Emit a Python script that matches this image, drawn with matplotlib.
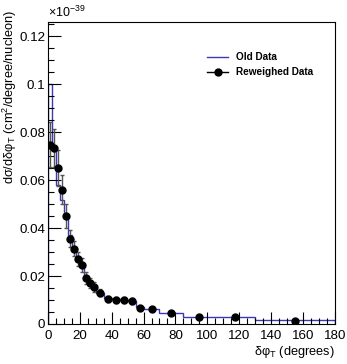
import numpy as np
import matplotlib
matplotlib.use('Agg')
import matplotlib.pyplot as plt
from matplotlib.lines import Line2D
from matplotlib.ticker import MultipleLocator, FuncFormatter

plt.rcParams['font.family'] = 'Liberation Sans'
plt.rcParams['mathtext.fontset'] = 'custom'
plt.rcParams['mathtext.rm'] = 'Liberation Sans'
plt.rcParams['mathtext.it'] = 'Liberation Sans:italic'
plt.rcParams['mathtext.bf'] = 'Liberation Sans:bold'

# bin edges in degrees (variable binning)
bin_edges = [0, 2.5, 5, 7.5, 10, 12.5, 15, 17.5, 20, 22.5, 25, 27.5, 30,
             35, 40, 45, 50, 55, 60, 70, 85, 105, 130, 180]

# Old Data histogram (units of 1e-39 cm2/degree/nucleon)
old_data = [0.100, 0.072, 0.058, 0.0517, 0.045, 0.037, 0.031, 0.027, 0.024,
            0.020, 0.017, 0.0152, 0.013, 0.011, 0.0103, 0.0100, 0.0095,
            0.0070, 0.0063, 0.0045, 0.0030, 0.0030, 0.0015]

# Reweighed Data points
rew_data = [0.0748, 0.0734, 0.065, 0.056, 0.045, 0.0356, 0.0314, 0.0271,
            0.0247, 0.0192, 0.0171, 0.0155, 0.0131, 0.0105, 0.0101, 0.0101,
            0.0097, 0.0066, 0.0063, 0.0045, 0.0029, 0.0029, 0.0014]
rew_err = [0.0095, 0.008, 0.0075, 0.006, 0.005, 0.0035, 0.003, 0.003, 0.003,
           0.0025, 0.002, 0.002, 0.0015, 0.0013, 0.0013, 0.0013, 0.0013,
           0.0008, 0.0006, 0.0005, 0.0003, 0.0003, 0.0002]

edges = np.array(bin_edges)
centers = 0.5 * (edges[:-1] + edges[1:])

fig = plt.figure(figsize=(3.47, 3.64), dpi=100)
ax = fig.add_axes([0.138, 0.110, 0.827, 0.830])

ax.stairs(old_data, edges, color='#3838b8', linewidth=1.0)
ax.errorbar(centers, rew_data, yerr=rew_err, fmt='o', color='black',
            ecolor='#555555', elinewidth=1.0, capsize=1.5, markersize=5)

ax.set_xlim(0, 180)
ax.set_ylim(0, 0.126)
ax.xaxis.set_major_locator(MultipleLocator(20))
ax.xaxis.set_minor_locator(MultipleLocator(5))
ax.yaxis.set_major_locator(MultipleLocator(0.02))
ax.yaxis.set_minor_locator(MultipleLocator(0.005))
ax.yaxis.set_major_formatter(FuncFormatter(lambda v, p: '%g' % round(v, 4)))
ax.tick_params(which='both', direction='in', top=False, right=False,
               labelsize=9.6, colors='black')
ax.tick_params(which='major', length=9, width=0.8)
ax.tick_params(which='minor', length=4.5, width=0.8)
ax.tick_params(axis='x', pad=4)
ax.tick_params(axis='y', pad=2)
for s in ax.spines.values():
    s.set_linewidth(0.8)

ax.set_xlabel(r'δφ$_{\rm T}$ (degrees)', fontsize=9.2, loc='right', labelpad=2)
ax.set_ylabel(r'dσ/dδφ$_{\rm T}$ (cm$^{2}$/degree/nucleon)', fontsize=9.2,
              loc='top')
ax.yaxis.set_label_coords(-0.1, 1.04)
ax.text(0.0, 1.005, r'$\times$10$^{-39}$', transform=ax.transAxes,
        fontsize=9, ha='left', va='bottom')

handles = [Line2D([], [], color='#3838b8', linewidth=1.0),
           Line2D([], [], color='black', linewidth=1.0, marker='o',
                  markersize=5)]
leg = ax.legend(handles, ['Old Data', 'Reweighed Data'], loc='upper left',
                bbox_to_anchor=(0.555, 0.9), frameon=False, borderpad=0,
                borderaxespad=0, handlelength=2.1, handletextpad=0.8,
                labelspacing=0.5, prop={'weight': 'bold', 'size': 7.2})

fig.savefig('out.png', dpi=100)
